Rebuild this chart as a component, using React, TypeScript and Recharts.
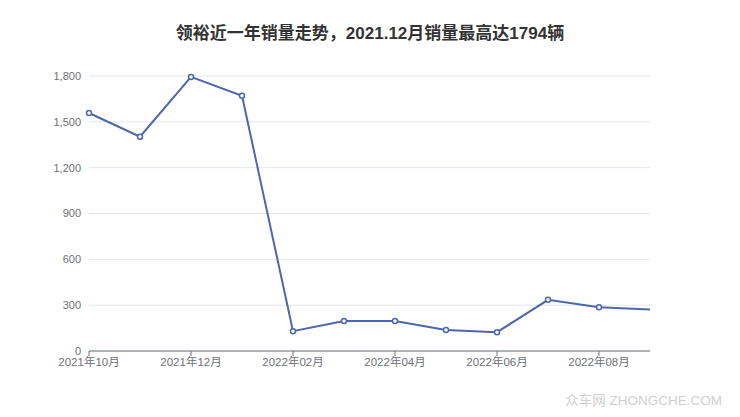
import { CartesianGrid, Line, LineChart, XAxis, YAxis } from 'recharts'

const months = [
  '2021年10月', '2021年11月', '2021年12月', '2022年01月', '2022年02月', '2022年03月',
  '2022年04月', '2022年05月', '2022年06月', '2022年07月', '2022年08月', '2022年09月',
]
const sales = [1558, 1403, 1794, 1671, 130, 197, 197, 138, 123, 335, 287, 272]
const yTicks = [0, 300, 600, 900, 1200, 1500, 1800]

const data = months.map((m, i) => ({ month: m, sales: sales[i] }))

const font = '"Liberation Sans", Arial, "Noto Sans CJK SC", sans-serif'
const lineColor = '#4d66ad'

function Dot(props: any) {
  const { cx, cy, index } = props
  if (index === months.length - 1) return <g key={index} />
  return <circle key={index} cx={cx} cy={cy} r={2.5} fill="#fff" stroke={lineColor} strokeWidth={1.5} />
}

export default function App() {
  return (
    <div style={{ position: 'absolute', left: 0, top: 0, width: 740, height: 417, background: '#fff', fontFamily: font }}>
      <div
        style={{
          position: 'absolute',
          top: 19,
          left: 0,
          width: 740,
          textAlign: 'center',
          fontSize: 17,
          fontWeight: 'bold',
          color: '#333',
        }}
      >
        领裕近一年销量走势，2021.12月销量最高达1794辆
      </div>
      <LineChart width={740} height={417} data={data} margin={{ top: 76, right: 90, left: 0, bottom: 0 }}>
        <CartesianGrid vertical={false} stroke="#e0e6f1" />
        <XAxis
          dataKey="month"
          interval={1}
          axisLine={{ stroke: '#6e7079' }}
          tickLine={{ stroke: '#6e7079' }}
          tickSize={5}
          tick={{ fill: '#6e7079', fontSize: 11.5, fontFamily: font }}
          height={66}
        />
        <YAxis
          domain={[0, 1800]}
          ticks={yTicks}
          width={89}
          axisLine={false}
          tickLine={false}
          tick={{ fill: '#6e7079', fontSize: 11, fontFamily: font }}
          tickFormatter={(v: number) => v.toLocaleString('en-US')}
        />
        <Line
          type="linear"
          dataKey="sales"
          stroke={lineColor}
          strokeWidth={2}
          dot={Dot}
          activeDot={false}
          isAnimationActive={false}
        />
      </LineChart>
      <div
        style={{
          position: 'absolute',
          right: 18,
          top: 389,
          fontSize: 13.5,
          color: '#d0d0d0',
          whiteSpace: 'nowrap',
        }}
      >
        众车网 ZHONGCHE.COM
      </div>
    </div>
  )
}
